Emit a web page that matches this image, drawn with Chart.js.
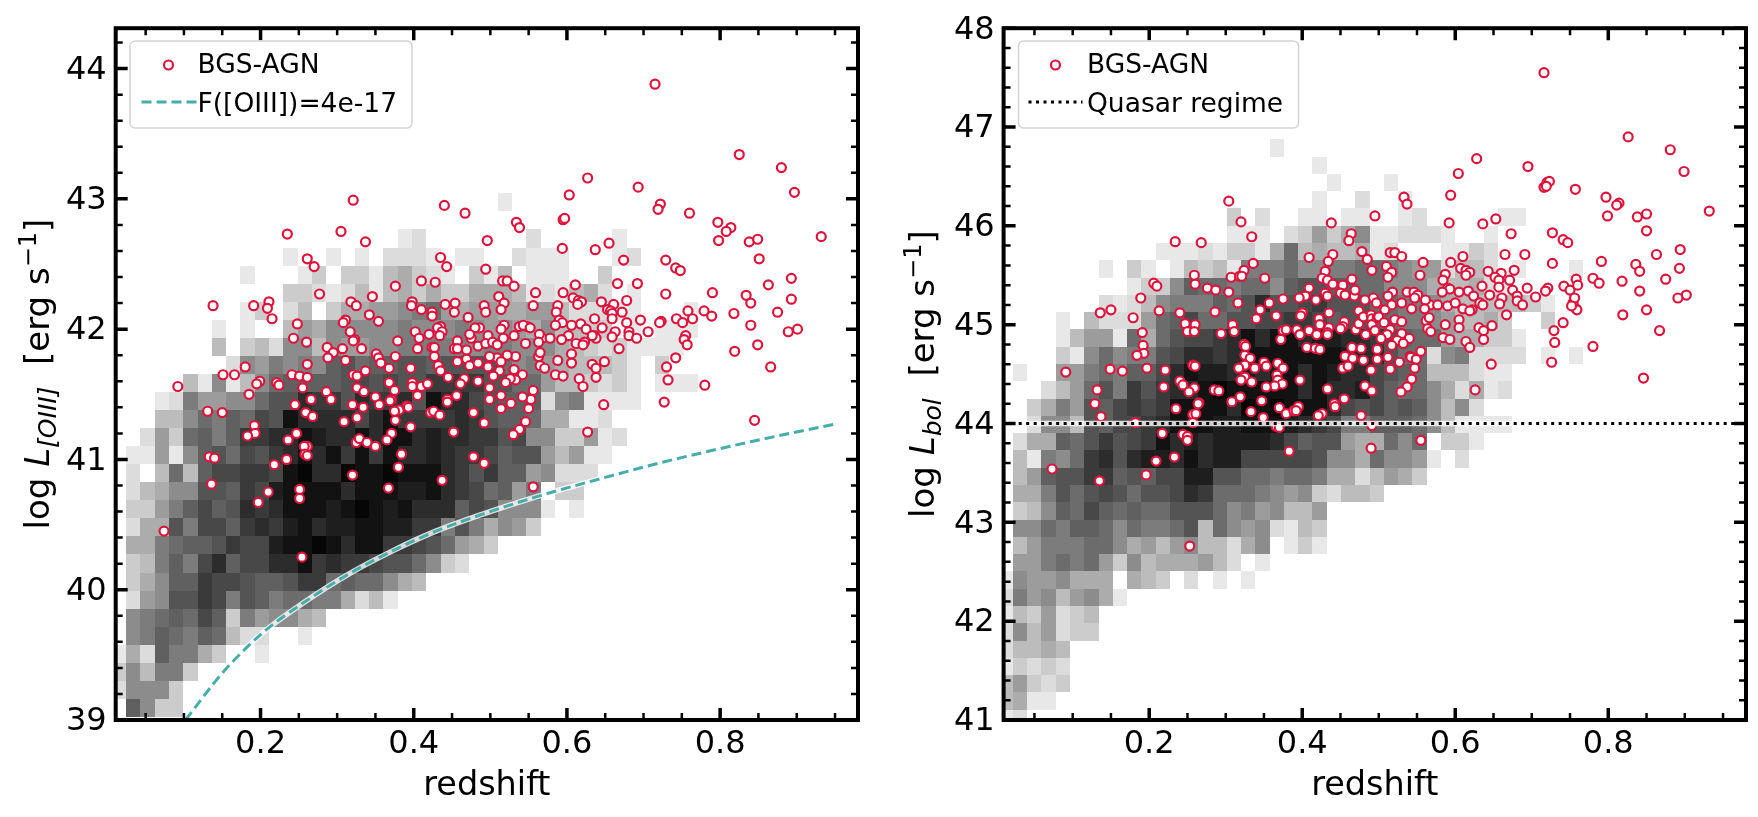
<!DOCTYPE html>
<html>
<head>
<meta charset="utf-8">
<title>BGS-AGN luminosity vs redshift</title>
<script src="https://cdn.jsdelivr.net/npm/chart.js@4"></script>
<style>
    html, body { margin: 0; padding: 0; background: #fff; overflow: hidden; }
    canvas { position: absolute; top: 0; }
    #leftChart { left: 0; }
    #rightChart { left: 880px; }
</style>
</head>
<body>
<canvas id="leftChart" width="880" height="817"></canvas>
<canvas id="rightChart" width="878" height="817"></canvas>
<script>
// ============================================
// DATA
// ============================================

const xMajor = [0.2, 0.4, 0.6, 0.8];
const xMinor = [0.05, 0.1, 0.15, 0.25, 0.3, 0.35, 0.45, 0.5, 0.55, 0.65, 0.7, 0.75, 0.85, 0.9, 0.95];
const yMajorOiii = [39, 40, 41, 42, 43, 44];
const yMinorOiii = [39.2, 39.4, 39.6, 39.8, 40.2, 40.4, 40.6, 40.8, 41.2, 41.4, 41.6, 41.8, 42.2, 42.4, 42.6, 42.8, 43.2, 43.4, 43.6, 43.8, 44.2];
const yMajorBol = [41, 42, 43, 44, 45, 46, 47, 48];
const yMinorBol = [41.2, 41.4, 41.6, 41.8, 42.2, 42.4, 42.6, 42.8, 43.2, 43.4, 43.6, 43.8, 44.2, 44.4, 44.6, 44.8, 45.2, 45.4, 45.6, 45.8, 46.2, 46.4, 46.6, 46.8, 47.2, 47.4, 47.6, 47.8];

// 2D histogram darkness per bin, one string per row (bottom row first), one base-36 digit per column
const heatGrays = ['#ffffff', '#e8e8e8', '#dcdcdc', '#cccccc', '#bcbcbc', '#acacac', '#9c9c9c', '#8c8c8c', '#7c7c7c', '#6c6c6c', '#606060', '#545454', '#484848', '#3a3a3a', '#2c2c2c', '#1e1e1e', '#121212', '#060606'];

const binsOiii = { x0: 0.0057, dx: 0.01867, y0: 39.023, dy: 0.1386 };
const heatOiii = [
    '0a733',
    '27773',
    '374883',
    '152a8853001',
    '078a98a9422001',
    '0789a9ca3867754',
    '0267bbdc8ba899885241',
    '0357aadccbaabdd9a99754',
    '0348a8ceacceegdeddcbb9732',
    '05589aabdccfgghgeggddcb9653',
    '0255b8ccadedfgeffggffdd8b85763',
    '03368acabedegggfghgfgeeeacb777101',
    '024577bbadcfggggegggffgedc9a68033',
    '020494accddcgheehgghgggedbdaa67222',
    '011617ab9cbdegegdgdgeefeddcabb64611',
    '002639a8addeegfeegeggefeeddbc7733612',
    '00044798a9cbgeeeecegddddedbaa955112',
    '00012866779bbeddbeddebgeecbaaa2781111',
    '000004171479aaaabcbcbbddddbb9964432310111',
    '000000002768787ab9aabbabbbb978654443103',
    '0000000403427747667788888788777543231111',
    '00000001010046577777877787676574433010111',
    '00000000013024035566789656655664222110001',
    '0000000000003321241453533555412145201',
    '00000000010001303314532103140111003',
    '0000000000001001010222101100211100012',
    '000000000000000000001200000002000001',
    '',
    '0000000000000000000000000001'
];

const binsBol = { x0: 0.0033, dx: 0.01864, y0: 40.929, dy: 0.1749 };
const heatBol = [
    '12',
    '4511',
    '46323',
    '13232',
    '24454',
    '2746233',
    '1436234',
    '286746751',
    '176675550543020101',
    '0668989637455564201',
    '04688899756467442570131',
    '07798aa979889b497672143',
    '0347a9ca9a99bbb97867446',
    '0558b9bcb9bbced999876732443',
    '046abbddabaccffbb9989985524653',
    '041879debeffegeffcccccb7759776102',
    '0255a9bdbcdgefeffffecabb6559790331',
    '002774baccdegggffgggfedc88aaa9741111',
    '003586bacdcdggggehghgggecbcaba7472',
    '0002469b8dbdeeghgggggegeefca99752512',
    '010066898aacegffefefgegfeecba9444211',
    '00003179788bceedegggggggfeeb9927822220101',
    '000014661959bccdegeggeffeedba99655331',
    '000010422269ac99bbccddcabb9988764453003',
    '000000021247888a9bebbcdbbb9988754444431',
    '0000000001337a998997abbaa99777544521',
    '00000001031014341888977889987662442010001',
    '00000000000111213315945445120001132',
    '00000000000000001110236357112221001',
    '000000000000000030200110110012000 0011',
    '00000000000000000000001002001',
    '0000000000000000000000010001',
    '00000000000000000000001',
    '00000000000000000001'
].map(row => row.replace(' ', ''));

// [redshift, log L_[OIII]]
const agnOiii = [
    [.235,42.73],[.305,42.75],[.337,42.67],[.261,42.54],[.270,42.48],[.376,42.33],[.277,42.27],[.346,42.25],[.318,42.21],[.325,42.18],
    [.211,42.21],[.191,42.18],[.138,42.18],[.209,42.16],[.215,42.08],[.342,42.11],[.354,42.06],[.311,42.07],[.308,42.05],[.248,42.04],
    [.317,41.98],[.323,41.92],[.321,41.91],[.379,41.91],[.243,41.93],[.260,41.90],[.287,41.86],[.307,41.85],[.295,41.82],[.332,41.85],
    [.351,41.81],[.354,41.78],[.376,41.79],[.288,41.78],[.311,41.76],[.357,41.74],[.368,41.70],[.261,41.73],[.180,41.71],[.151,41.65],
    [.166,41.65],[.241,41.65],[.251,41.64],[.261,41.63],[.321,41.65],[.326,41.64],[.337,41.68],[.199,41.60],[.195,41.58],[.221,41.59],
    [.224,41.57],[.368,41.59],[.255,41.55],[.326,41.55],[.375,41.53],[.092,41.56],[.286,41.52],[.335,41.52],[.185,41.50],[.266,41.46],
    [.292,41.46],[.350,41.48],[.371,41.46],[.369,41.45],[.245,41.42],[.320,41.42],[.334,41.40],[.355,41.42],[.381,41.38],[.375,41.37],
    [.391,41.41],[.131,41.37],[.150,41.36],[.259,41.36],[.268,41.33],[.326,41.32],[.376,41.30],[.309,41.29],[.192,41.26],[.193,41.20],
    [.183,41.18],[.247,41.20],[.236,41.15],[.371,41.20],[.365,41.15],[.325,41.13],[.329,41.16],[.339,41.13],[.350,41.10],[.261,41.10],
    [.257,41.10],[.258,41.04],[.261,41.03],[.384,41.04],[.133,41.02],[.140,41.01],[.234,41.00],[.218,40.96],[.380,40.94],[.320,40.88],
    [.136,40.81],[.210,40.75],[.251,40.77],[.367,40.78],[.197,40.67],[.251,40.70],[.074,40.45],[.254,40.25],
    [.534,42.82],[.538,42.78],[.595,42.84],[.496,42.68],[.594,42.62],[.637,42.61],[.655,42.66],[.674,42.53],[.729,42.53],[.742,42.47],
    [.748,42.45],[.435,42.55],[.443,42.48],[.494,42.46],[.410,42.37],[.428,42.36],[.516,42.37],[.522,42.37],[.531,42.33],[.559,42.28],
    [.595,42.28],[.611,42.34],[.666,42.35],[.692,42.35],[.729,42.27],[.608,42.24],[.615,42.22],[.619,42.21],[.614,42.19],[.511,42.25],
    [.518,42.20],[.514,42.15],[.398,42.21],[.397,42.18],[.410,42.15],[.424,42.13],[.424,42.10],[.441,42.19],[.454,42.20],[.453,42.13],
    [.492,42.18],[.494,42.13],[.471,42.09],[.556,42.18],[.588,42.18],[.586,42.13],[.645,42.21],[.661,42.19],[.678,42.22],[.653,42.15],
    [.657,42.14],[.659,42.12],[.672,42.13],[.659,42.08],[.636,42.08],[.590,42.07],[.594,42.05],[.606,42.03],[.618,42.04],[.585,42.03],
    [.646,42.01],[.678,42.05],[.696,42.07],[.723,42.06],[.721,42.05],[.743,42.08],[.751,42.05],[.758,42.14],[.625,42.00],[.663,41.98],
    [.681,41.98],[.681,41.95],[.691,41.93],[.706,41.98],[.659,41.94],[.636,41.95],[.638,41.93],[.633,41.95],[.602,41.95],[.593,41.92],
    [.568,41.93],[.578,41.93],[.564,41.96],[.563,41.90],[.612,41.89],[.623,41.90],[.621,41.88],[.546,41.89],[.538,42.02],[.548,42.02],
    [.543,42.03],[.552,42.01],[.531,41.95],[.518,42.03],[.514,42.00],[.486,42.01],[.480,42.01],[.497,41.95],[.517,41.93],[.475,41.93],
    [.473,41.96],[.435,42.02],[.431,42.01],[.437,41.98],[.420,41.96],[.434,41.95],[.402,41.98],[.407,41.93],[.405,41.85],[.424,41.86],
    [.427,41.86],[.457,41.91],[.453,41.85],[.457,41.85],[.469,41.84],[.484,41.87],[.494,41.89],[.503,41.90],[.509,41.88],[.668,41.85],
    [.755,41.95],[.753,41.92],[.757,41.88],[.742,41.78],[.730,41.71],[.732,41.61],[.727,41.44],[.563,41.79],[.565,41.82],[.588,41.76],
    [.606,41.81],[.606,41.74],[.633,41.73],[.638,41.70],[.649,41.75],[.638,41.63],[.565,41.72],[.571,41.70],[.585,41.65],[.595,41.64],
    [.616,41.62],[.621,41.56],[.648,41.42],[.556,41.53],[.553,41.46],[.542,41.48],[.550,41.39],[.546,41.29],[.538,41.23],[.530,41.19],
    [.627,41.21],[.542,41.65],[.531,41.69],[.533,41.79],[.522,41.80],[.509,41.78],[.499,41.79],[.514,41.75],[.469,41.77],[.457,41.75],
    [.427,41.79],[.432,41.72],[.435,41.68],[.473,41.72],[.484,41.74],[.497,41.71],[.512,41.68],[.504,41.64],[.533,41.61],[.526,41.62],
    [.520,41.59],[.484,41.60],[.499,41.55],[.466,41.62],[.461,41.58],[.445,41.63],[.396,41.70],[.398,41.59],[.398,41.56],[.410,41.56],
    [.418,41.58],[.405,41.49],[.444,41.46],[.444,41.44],[.456,41.49],[.499,41.46],[.514,41.49],[.514,41.39],[.527,41.43],[.478,41.36],
    [.393,41.40],[.422,41.36],[.426,41.37],[.434,41.34],[.492,41.28],[.396,41.25],[.452,41.21],[.478,41.02],[.492,40.97],[.437,40.84],
    [.556,40.79],
    [.715,43.88],[.825,43.34],[.880,43.24],[.897,43.05],[.627,43.16],[.693,43.09],[.722,42.96],[.719,42.92],[.760,42.89],[.321,42.99],
    [.440,42.95],[.467,42.89],[.603,43.03],[.597,42.85],[.797,42.82],[.814,42.78],[.808,42.75],[.798,42.68],[.838,42.67],[.849,42.69],
    [.932,42.71],[.851,42.54],[.893,42.39],[.863,42.34],[.790,42.28],[.834,42.26],[.840,42.20],[.893,42.23],[.779,42.14],[.789,42.10],
    [.818,42.12],[.875,42.13],[.840,42.03],[.901,42.00],[.889,41.98],[.819,41.83],[.849,41.88],[.866,41.71],[.780,41.57],[.764,42.08],
    [.845,41.30]
];

// [redshift, log L_bol]
const agnBol = [
    [.304,46.25],[.320,46.04],[.334,45.89],[.234,45.84],[.268,45.83],[.336,45.62],[.324,45.55],[.307,45.48],[.318,45.49],[.321,45.49],
    [.351,45.47],[.259,45.50],[.260,45.41],[.206,45.42],[.210,45.39],[.276,45.37],[.287,45.35],[.304,45.33],[.189,45.27],[.316,45.22],
    [.375,45.26],[.357,45.22],[.150,45.15],[.136,45.12],[.213,45.14],[.345,45.15],[.240,45.12],[.286,45.13],[.179,45.07],[.340,45.06],
    [.366,45.09],[.247,45.01],[.260,45.00],[.309,45.00],[.311,44.93],[.191,44.92],[.250,44.93],[.259,44.93],[.294,44.91],[.375,44.94],
    [.379,44.95],[.372,44.85],[.192,44.79],[.193,44.71],[.184,44.69],[.324,44.80],[.326,44.78],[.325,44.69],[.332,44.66],[.325,44.59],
    [.350,44.62],[.353,44.58],[.368,44.61],[.375,44.56],[.257,44.59],[.260,44.58],[.317,44.56],[.338,44.56],[.197,44.56],[.221,44.54],
    [.149,44.55],[.165,44.53],[.091,44.52],[.367,44.49],[.368,44.44],[.325,44.47],[.320,44.44],[.334,44.42],[.374,44.40],[.364,44.38],
    [.353,44.37],[.240,44.43],[.244,44.39],[.219,44.37],[.259,44.36],[.252,44.32],[.285,44.34],[.291,44.33],[.132,44.34],[.308,44.22],
    [.319,44.27],[.347,44.23],[.129,44.20],[.265,44.21],[.264,44.20],[.235,44.15],[.370,44.16],[.379,44.10],[.333,44.12],[.389,44.13],
    [.257,44.09],[.261,44.10],[.137,44.07],[.349,44.06],[.182,44.01],[.257,44.01],[.217,43.90],[.366,43.97],[.370,43.96],[.244,43.89],
    [.250,43.87],[.250,43.83],[.383,43.72],[.073,43.54],[.135,43.42],[.196,43.48],[.209,43.62],[.233,43.66],[.253,42.76],
    [.533,46.29],[.537,46.22],[.594,46.31],[.716,46.39],[.720,46.44],[.757,46.37],[.495,46.10],[.438,46.03],[.592,46.03],[.636,46.02],
    [.653,46.07],[.673,45.92],[.727,45.93],[.741,45.86],[.747,45.83],[.464,45.92],[.461,45.85],[.478,45.74],[.485,45.66],[.409,45.68],
    [.440,45.71],[.434,45.64],[.515,45.73],[.521,45.73],[.530,45.69],[.558,45.63],[.594,45.63],[.610,45.69],[.665,45.71],[.691,45.71],
    [.727,45.62],[.491,45.55],[.430,45.54],[.510,45.59],[.517,45.53],[.512,45.48],[.426,45.47],[.433,45.45],[.465,45.46],[.554,45.50],
    [.587,45.51],[.584,45.45],[.607,45.57],[.614,45.55],[.619,45.53],[.614,45.50],[.643,45.54],[.660,45.52],[.677,45.55],[.652,45.48],
    [.657,45.45],[.671,45.45],[.635,45.39],[.590,45.37],[.593,45.36],[.583,45.33],[.605,45.33],[.617,45.34],[.645,45.30],[.657,45.38],
    [.675,45.35],[.694,45.37],[.721,45.37],[.718,45.34],[.742,45.39],[.750,45.35],[.758,45.46],[.760,45.40],[.624,45.29],[.661,45.27],
    [.681,45.29],[.681,45.24],[.705,45.28],[.688,45.20],[.658,45.21],[.632,45.22],[.636,45.20],[.567,45.20],[.577,45.20],[.590,45.19],
    [.600,45.22],[.610,45.16],[.622,45.15],[.619,45.14],[.561,45.25],[.560,45.16],[.537,45.33],[.546,45.33],[.551,45.30],[.547,45.27],
    [.530,45.22],[.543,45.16],[.518,45.33],[.512,45.29],[.517,45.20],[.508,45.15],[.493,45.27],[.497,45.22],[.482,45.25],[.468,45.29],
    [.469,45.35],[.453,45.40],[.440,45.41],[.430,45.32],[.433,45.29],[.409,45.37],[.404,45.29],[.396,45.27],[.418,45.25],[.450,45.32],
    [.456,45.30],[.474,45.14],[.435,45.12],[.400,45.12],[.398,45.09],[.422,45.06],[.435,44.97],[.455,45.03],[.453,44.98],[.450,44.96],
    [.423,45.00],[.409,44.94],[.393,44.95],[.397,44.90],[.419,44.90],[.433,44.92],[.433,44.90],[.470,44.95],[.474,45.01],[.480,45.08],
    [.490,45.10],[.491,45.06],[.491,45.00],[.498,45.07],[.500,45.08],[.495,44.94],[.483,44.90],[.507,45.02],[.515,44.95],[.511,44.90],
    [.503,44.86],[.521,45.05],[.530,45.03],[.530,44.91],[.540,44.86],[.524,44.84],[.532,44.81],[.517,44.79],[.562,45.04],[.566,45.07],
    [.564,44.96],[.568,44.93],[.587,45.00],[.605,45.05],[.605,44.97],[.584,44.87],[.593,44.85],[.614,44.83],[.619,44.77],[.631,44.97],
    [.637,44.94],[.648,44.99],[.637,44.85],[.667,45.10],[.741,45.02],[.729,44.94],[.730,44.82],[.726,44.62],[.647,44.60],[.758,45.16],
    [.754,45.22],[.756,45.27],[.759,45.15],[.752,45.19],[.406,44.77],[.417,44.76],[.423,44.75],[.465,44.77],[.477,44.76],[.498,44.75],
    [.498,44.65],[.456,44.68],[.466,44.66],[.512,44.67],[.480,44.64],[.541,44.68],[.542,44.67],[.555,44.73],[.549,44.65],[.527,44.62],
    [.547,44.56],[.453,44.56],[.460,44.58],[.490,44.54],[.515,44.55],[.543,44.45],[.537,44.37],[.529,44.32],[.626,44.34],[.482,44.38],
    [.491,44.33],[.397,44.44],[.433,44.35],[.455,44.25],[.442,44.20],[.443,44.17],[.395,44.17],[.392,44.13],[.426,44.10],[.421,44.08],
    [.477,44.08],[.491,43.98],[.555,43.83],[.490,43.75],
    [.716,47.55],[.826,46.90],[.881,46.77],[.899,46.55],[.628,46.68],[.695,46.60],[.723,46.45],[.719,46.40],[.797,46.29],[.814,46.23],
    [.811,46.21],[.799,46.10],[.838,46.09],[.850,46.12],[.932,46.15],[.850,45.95],[.894,45.76],[.863,45.71],[.791,45.64],[.836,45.61],
    [.841,45.54],[.893,45.57],[.780,45.47],[.788,45.42],[.818,45.44],[.875,45.46],[.841,45.34],[.902,45.30],[.891,45.27],[.819,45.10],
    [.850,45.15],[.867,44.94],[.780,44.78],[.846,44.46],[.604,46.53]
];

// Flux limit curve, F([OIII]) = 4e-17
const fluxZ = [0.102, 0.153, 0.205, 0.256, 0.315, 0.373, 0.425, 0.49, 0.564, 0.63, 0.726, 0.843, 0.949];
const fluxL = [39.0, 39.38, 39.68, 39.90, 40.12, 40.30, 40.44, 40.58, 40.72, 40.83, 40.98, 41.14, 41.27];

const quasarZ = [0.0, 1.0];
const quasarL = [44, 44];

const CRIMSON = '#dc143c';
const TEAL = '#45aeab';
const FONT = '"DejaVu Sans"';

// ============================================
// PLUGINS
// ============================================

// Histogram cells, positioned through the chart scales
const heatPlugin = {
    id: 'heat',
    beforeDatasetsDraw(chart, args, opts) {
        const { ctx, chartArea: a, scales: { x, y } } = chart;
        const { rows, bins } = opts;
        ctx.save();
        ctx.beginPath();
        ctx.rect(a.left, a.top, a.right - a.left, a.bottom - a.top);
        ctx.clip();
        rows.forEach((row, r) => {
            for (let c = 0; c < row.length; c++) {
                const level = parseInt(row[c], 36);
                if (!level) continue;
                const x0 = Math.round(x.getPixelForValue(bins.x0 + c * bins.dx));
                const x1 = Math.round(x.getPixelForValue(bins.x0 + (c + 1) * bins.dx));
                const y0 = Math.round(y.getPixelForValue(bins.y0 + (r + 1) * bins.dy));
                const y1 = Math.round(y.getPixelForValue(bins.y0 + r * bins.dy));
                ctx.fillStyle = heatGrays[level];
                ctx.fillRect(x0, y0, x1 - x0, y1 - y0);
            }
        });
        ctx.restore();
    }
};

// Spines, inward ticks on all four sides, legend box and the mathtext style y label
const framePlugin = {
    id: 'frame',
    afterDraw(chart, args, opts) {
        const { ctx, chartArea: a, scales: { x, y } } = chart;
        ctx.save();
        ctx.strokeStyle = '#000';
        const tick = (vals, scale, len, w) => {
            ctx.lineWidth = w;
            vals.forEach(v => {
                const p = scale.getPixelForValue(v);
                ctx.beginPath();
                if (scale === x) {
                    ctx.moveTo(p, a.bottom); ctx.lineTo(p, a.bottom - len);
                    ctx.moveTo(p, a.top); ctx.lineTo(p, a.top + len);
                } else {
                    ctx.moveTo(a.left, p); ctx.lineTo(a.left + len, p);
                    ctx.moveTo(a.right, p); ctx.lineTo(a.right - len, p);
                }
                ctx.stroke();
            });
        };
        tick(xMajor, x, 12, 3.5);
        tick(xMinor, x, 7, 2.5);
        tick(opts.yMajor, y, 12, 3.5);
        tick(opts.yMinor, y, 7, 2.5);
        ctx.lineWidth = 4;
        ctx.strokeRect(a.left, a.top, a.right - a.left, a.bottom - a.top);

        drawLegend(ctx, opts.legend);
        drawYLabel(ctx, a, opts.yLabel);
        ctx.restore();
    }
};

function drawLegend(ctx, lg) {
    ctx.save();
    ctx.beginPath();
    ctx.roundRect(lg.left, lg.top, lg.width, lg.height, 5);
    ctx.fillStyle = 'rgba(255,255,255,0.8)';
    ctx.fill();
    ctx.strokeStyle = '#d4d4d4';
    ctx.lineWidth = 1.5;
    ctx.stroke();

    ctx.beginPath();
    ctx.arc(lg.left + lg.markerX, lg.top + 24, 4.5, 0, Math.PI * 2);
    ctx.fillStyle = '#fff';
    ctx.fill();
    ctx.strokeStyle = CRIMSON;
    ctx.lineWidth = 2.2;
    ctx.stroke();

    ctx.beginPath();
    ctx.moveTo(lg.left + lg.lineX0, lg.top + 61);
    ctx.lineTo(lg.left + lg.lineX1, lg.top + 61);
    ctx.strokeStyle = lg.lineColor;
    ctx.lineWidth = lg.lineWidth;
    ctx.setLineDash(lg.lineDash);
    ctx.stroke();
    ctx.setLineDash([]);

    ctx.fillStyle = '#000';
    ctx.font = `26.5px ${FONT}`;
    ctx.textBaseline = 'alphabetic';
    ctx.textAlign = 'left';
    ctx.fillText(lg.labels[0], lg.left + lg.textX, lg.top + 32);
    ctx.fillText(lg.labels[1], lg.left + lg.textX, lg.top + 71);
    ctx.restore();
}

function drawYLabel(ctx, a, lb) {
    const parts = lb.parts;
    let total = 0;
    parts.forEach(p => {
        ctx.font = `${p.style || ''} ${p.size}px ${FONT}`;
        p.w = ctx.measureText(p.text).width;
        total += p.w;
    });
    ctx.save();
    ctx.translate(lb.x, (a.top + a.bottom) / 2 + total / 2);
    ctx.rotate(-Math.PI / 2);
    ctx.fillStyle = '#000';
    ctx.textAlign = 'left';
    ctx.textBaseline = 'alphabetic';
    let pos = 0;
    parts.forEach(p => {
        ctx.font = `${p.style || ''} ${p.size}px ${FONT}`;
        ctx.fillText(p.text, pos, p.dy || 0);
        pos += p.w;
    });
    ctx.restore();
}

// ============================================
// CHARTS
// ============================================

function toPoints(pairs) {
    return pairs.map(p => ({ x: p[0], y: p[1] }));
}

function zipLine(xs, ys) {
    return xs.map((v, i) => ({ x: v, y: ys[i] }));
}

function makePanel(id, cfg) {
    const ctx = document.getElementById(id);
    return new Chart(ctx, {
        type: 'scatter',
        data: {
            datasets: [
                {
                    label: 'BGS-AGN',
                    data: toPoints(cfg.points),
                    order: 2,
                    pointRadius: 4.5,
                    pointBorderWidth: 2.2,
                    pointBorderColor: CRIMSON,
                    pointBackgroundColor: '#fff'
                },
                {
                    label: 'halo',
                    data: cfg.line,
                    order: 1,
                    showLine: true,
                    pointRadius: 0,
                    borderColor: 'rgba(255,255,255,0.8)',
                    borderWidth: 5.5,
                    cubicInterpolationMode: 'monotone'
                },
                {
                    label: cfg.legend.labels[1],
                    data: cfg.line,
                    order: 0,
                    showLine: true,
                    pointRadius: 0,
                    borderColor: cfg.legend.lineColor,
                    borderWidth: cfg.legend.lineWidth,
                    borderDash: cfg.legend.lineDash,
                    cubicInterpolationMode: 'monotone'
                }
            ]
        },
        plugins: [heatPlugin, framePlugin],
        options: {
            responsive: false,
            animation: false,
            devicePixelRatio: 1,
            layout: { padding: { top: 26, right: cfg.rightPad, left: 0, bottom: 0 } },
            plugins: {
                legend: { display: false },
                tooltip: { enabled: false },
                heat: { rows: cfg.heat, bins: cfg.bins },
                frame: { yMajor: cfg.yMajor, yMinor: cfg.yMinor, legend: cfg.legend, yLabel: cfg.yLabel }
            },
            scales: {
                x: {
                    type: 'linear',
                    min: cfg.xMin,
                    max: 0.98,
                    grid: { display: false, drawTicks: false },
                    border: { display: false },
                    afterBuildTicks: s => { s.ticks = xMajor.map(v => ({ value: v })); },
                    afterFit: s => { s.height = 97; },
                    ticks: {
                        color: '#000',
                        maxRotation: 0,
                        autoSkip: false,
                        padding: 5,
                        font: { family: FONT, size: 32 },
                        callback: v => v.toFixed(1)
                    },
                    title: {
                        display: true,
                        text: 'redshift',
                        color: '#000',
                        font: { family: FONT, size: 33.5 },
                        padding: { top: 0, bottom: 11 }
                    }
                },
                y: {
                    type: 'linear',
                    min: cfg.yMin,
                    max: cfg.yMax,
                    grid: { display: false, drawTicks: false },
                    border: { display: false },
                    afterBuildTicks: s => { s.ticks = cfg.yMajor.map(v => ({ value: v })); },
                    afterFit: s => { s.width = cfg.yWidth; },
                    ticks: {
                        color: '#000',
                        autoSkip: false,
                        padding: 9,
                        labelOffset: 2,
                        font: { family: FONT, size: 32 },
                        callback: v => String(v)
                    }
                }
            }
        }
    });
}

makePanel('leftChart', {
    points: agnOiii,
    line: zipLine(fluxZ, fluxL),
    heat: heatOiii,
    bins: binsOiii,
    xMin: 0.0109,
    yMin: 39,
    yMax: 44.31,
    yMajor: yMajorOiii,
    yMinor: yMinorOiii,
    yWidth: 115.7,
    rightPad: 22,
    legend: {
        left: 130, top: 41, width: 282, height: 87,
        markerX: 38.5, lineX0: 11.5, lineX1: 67, textX: 67.5,
        lineColor: TEAL, lineWidth: 3, lineDash: [10, 5],
        labels: ['BGS-AGN', 'F([OIII])=4e-17']
    },
    yLabel: {
        x: 48.5,
        parts: [
            { text: 'log ', size: 34 },
            { text: 'L', size: 34, style: 'italic' },
            { text: '[OIII]', size: 25, style: 'italic', dy: 7 },
            { text: '  [erg s', size: 34 },
            { text: '\u22121', size: 24, dy: -13 },
            { text: ']', size: 34 }
        ]
    }
});

makePanel('rightChart', {
    points: agnBol,
    line: zipLine(quasarZ, quasarL),
    heat: heatBol,
    bins: binsBol,
    xMin: 0.0097,
    yMin: 41,
    yMax: 48,
    yMajor: yMajorBol,
    yMinor: yMinorBol,
    yWidth: 123.6,
    rightPad: 12,
    legend: {
        left: 138.5, top: 41, width: 280, height: 87,
        markerX: 37, lineX0: 10, lineX1: 64, textX: 68.5,
        lineColor: '#000', lineWidth: 3, lineDash: [3, 4.5],
        labels: ['BGS-AGN', 'Quasar regime']
    },
    yLabel: {
        x: 54,
        parts: [
            { text: 'log ', size: 34 },
            { text: 'L', size: 34, style: 'italic' },
            { text: 'bol', size: 25, style: 'italic', dy: 7 },
            { text: '  [erg s', size: 34 },
            { text: '\u22121', size: 24, dy: -13 },
            { text: ']', size: 34 }
        ]
    }
});
</script>
</body>
</html>
